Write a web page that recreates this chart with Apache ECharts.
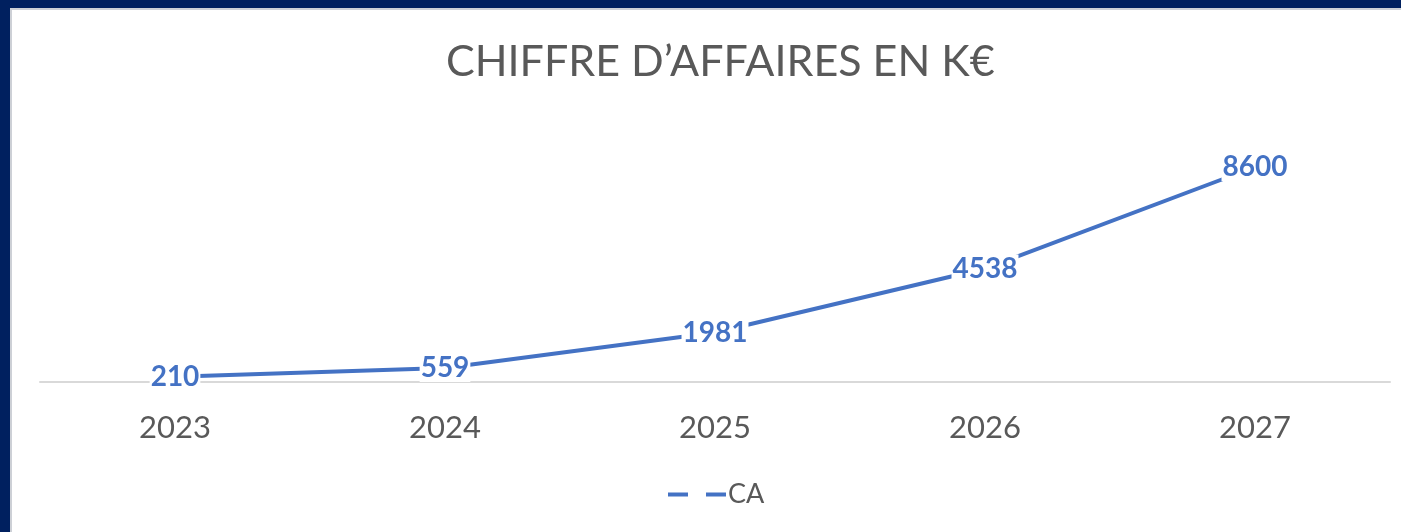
<!DOCTYPE html>
<html>
<head>
<meta charset="utf-8">
<script src="https://cdn.jsdelivr.net/npm/echarts@6/dist/echarts.min.js"></script>
<style>
  html, body { margin: 0; padding: 0; }
  body { width: 1401px; height: 532px; background: #00205f; position: relative; overflow: hidden; }
  .paper {
    position: absolute; left: 10px; top: 8px; right: 0; bottom: 0;
    background: #fff; border-left: 2px solid #cdd0d6; border-top: 2px solid #cdd0d6;
  }
  #chart { position: absolute; left: 0; top: 0; width: 1401px; height: 532px; }
</style>
</head>
<body>
<div class="paper"></div>
<div id="chart"></div>
<script>
var years = ['2023', '2024', '2025', '2026', '2027'];
var caValues = [210, 559, 1981, 4538, 8600];

var myChart = echarts.init(document.getElementById('chart'));
var option = {
  backgroundColor: 'transparent',
  animation: false,
  title: {
    text: 'CHIFFRE D\u2019AFFAIRES EN K\u20ac',
    left: 441,
    top: 36,
    textStyle: { fontFamily: 'Lato', fontWeight: 'normal', fontSize: 43, color: '#595959' }
  },
  legend: {
    bottom: 19,
    left: 663,
    itemWidth: 58,
    itemHeight: 4,
    itemGap: 2,
    data: [{
      name: 'CA',
      icon: 'path://M0,0 H20 V4 H0 Z M38,0 H58 V4 H38 Z'
    }],
    textStyle: { fontFamily: 'Lato', fontSize: 27, color: '#595959', padding: [0, 0, 0, -3] }
  },
  grid: { left: 40, right: 11, top: 132, bottom: 150 },
  xAxis: {
    type: 'category',
    data: years,
    axisLine: { lineStyle: { color: '#d9d9d9', width: 2 } },
    axisTick: { show: false },
    axisLabel: { fontFamily: 'Lato', fontSize: 31, color: '#595959', margin: 30 }
  },
  yAxis: {
    type: 'value',
    min: 0,
    max: 10000,
    show: false,
    splitLine: { show: false }
  },
  series: [{
    name: 'CA',
    type: 'line',
    data: caValues,
    color: '#4472c4',
    symbol: 'circle',
    symbolSize: 1,
    lineStyle: { width: 4, color: '#4472c4' },
    label: {
      show: true,
      position: 'inside',
      fontFamily: 'Lato',
      fontWeight: 'bold',
      fontSize: 28,
      color: '#4472c4',
      backgroundColor: '#fff',
      padding: [0, 1]
    }
  }]
};
myChart.setOption(option);
</script>
</body>
</html>
